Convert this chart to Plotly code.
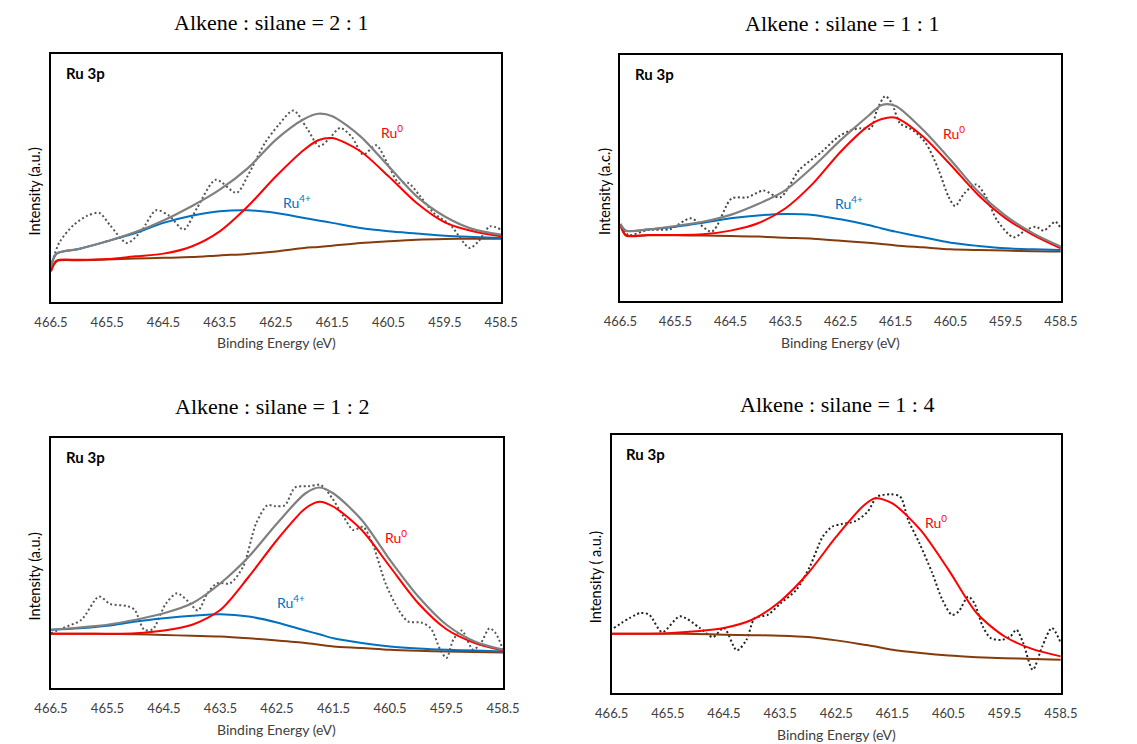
import plotly.graph_objects as go

W, H = 1137, 744

# ---------------- data: Ru 3p XPS fits (intensity in arbitrary units) ----------------
TITLES = ["Alkene : silane = 2 : 1", "Alkene : silane = 1 : 1",
          "Alkene : silane = 1 : 2", "Alkene : silane = 1 : 4"]
Y_TITLES = ["Intensity (a.u.)", "Intensity (a.c.)", "Intensity (a.u.)", "Intensity ( a.u.)"]
TICK_VALUES = [466.5, 465.5, 464.5, 463.5, 462.5, 461.5, 460.5, 459.5, 458.5]

# panel 1 (2 : 1)
fit_e1 = [466.5, 466.4, 466.0, 465.5, 465.0, 464.5, 464.0, 463.5, 463.0, 462.5, 462.0,
          461.75, 461.5, 461.0, 460.5, 460.0, 459.5, 459.0, 458.5]
env_1 = [14.4, 19.5, 21.4, 24.5, 28.2, 32.9, 38.6, 45.3, 54.0, 65.5, 73.8,
         75.9, 74.9, 66.8, 54.7, 42.6, 34.5, 29.4, 27.2]
ru0_1 = [12.4, 16.7, 17.0, 17.3, 18.4, 19.5, 22.4, 28.5, 38.6, 50.7, 61.4,
         65.2, 66.1, 60.8, 50.7, 39.9, 32.1, 28.5, 26.5]
ru4_1 = [14.4, 19.5, 21.4, 24.5, 27.8, 31.9, 34.8, 36.6, 37.0, 35.9, 33.9,
         32.9, 31.9, 29.8, 28.5, 27.6, 26.7, 26.2, 25.8]
bg_1 = [12.4, 16.4, 16.8, 17.1, 17.5, 17.8, 18.1, 18.8, 19.4, 20.4, 21.8,
        22.2, 22.7, 23.8, 24.5, 25.1, 25.4, 25.5, 25.5]
raw_e1 = [466.5, 466.35, 466.1, 465.85, 465.64, 465.45, 465.15, 464.9, 464.63, 464.4, 464.14,
          463.9, 463.57, 463.2, 463.0, 462.7, 462.45, 462.19, 461.95, 461.73, 461.55, 461.36,
          461.15, 460.95, 460.72, 460.5, 460.32, 460.15, 459.95, 459.7, 459.4, 459.06, 458.9,
          458.7, 458.5]
raw_1 = [14.4, 24.0, 31.0, 34.8, 35.9, 31.0, 23.8, 28.5, 37.0, 34.8, 29.2,
         38.0, 49.3, 44.0, 51.0, 64.0, 71.5, 77.2, 70.0, 62.8, 66.0, 70.2,
         66.5, 59.4, 63.2, 55.0, 48.0, 48.0, 43.0, 36.0, 31.0, 21.8, 24.5,
         30.5, 29.2]

# panel 2 (1 : 1)
fit_e2 = [466.5, 466.4, 466.0, 465.5, 465.0, 464.5, 464.0, 463.5, 463.0, 462.5, 462.0,
          461.75, 461.5, 461.0, 460.5, 460.0, 459.5, 459.0, 458.5]
env_2 = [31.3, 28.6, 29.1, 30.5, 32.2, 35.0, 39.4, 45.1, 54.6, 65.4, 75.2,
         79.7, 79.3, 69.5, 57.3, 44.4, 34.6, 27.5, 22.1]
ru0_2 = [31.3, 26.8, 26.8, 26.8, 27.1, 28.6, 31.6, 37.7, 47.8, 60.7, 71.1,
         74.0, 74.5, 66.8, 55.3, 43.1, 33.6, 26.8, 21.4]
ru4_2 = [31.3, 28.6, 29.1, 30.2, 31.8, 33.6, 34.8, 35.4, 35.0, 33.2, 30.9,
         29.5, 28.2, 25.9, 23.7, 22.4, 21.4, 21.0, 20.7]
bg_2 = [30.9, 26.6, 26.7, 26.7, 26.6, 26.4, 26.2, 25.7, 25.3, 24.5, 23.7,
        23.2, 22.6, 21.8, 21.0, 20.7, 20.5, 20.2, 20.1]
raw_e2 = [466.5, 466.35, 466.0, 465.6, 465.22, 464.84, 464.48, 464.2, 463.9, 463.6, 463.25,
          462.84, 462.54, 462.3, 462.13, 461.95, 461.84, 461.69, 461.57, 461.42, 461.19,
          460.95, 460.72, 460.54, 460.42, 460.25, 460.04, 459.86, 459.66, 459.36, 459.13,
          458.95, 458.81, 458.6, 458.5]
raw_2 = [30.2, 26.8, 28.9, 29.2, 33.6, 28.2, 41.7, 42.1, 44.9, 42.1, 53.3,
         60.7, 66.8, 69.5, 70.2, 70.2, 77.6, 83.3, 80.4, 72.2, 69.5,
         64.1, 53.3, 42.4, 38.6, 43.8, 47.4, 42.4, 32.9, 25.9, 28.9,
         30.2, 28.6, 32.2, 29.5]

# panel 3 (1 : 2)
fit_e3 = [466.5, 466.0, 465.5, 465.0, 464.5, 464.0, 463.5, 463.0, 462.5, 462.0,
          461.75, 461.5, 461.0, 460.5, 460.0, 459.5, 459.0, 458.5]
env_3 = [23.3, 24.2, 25.3, 27.3, 29.9, 33.9, 41.9, 52.5, 65.8, 77.8,
         80.2, 77.8, 67.2, 51.2, 36.6, 25.3, 18.6, 15.3]
ru0_3 = [21.7, 21.7, 21.7, 21.9, 23.0, 25.3, 31.3, 44.5, 59.2, 71.8,
         74.5, 72.5, 63.2, 48.5, 33.9, 23.5, 18.0, 15.0]
ru4_3 = [23.3, 23.9, 24.9, 26.6, 27.9, 28.9, 29.5, 28.6, 26.2, 23.0,
         21.5, 19.9, 18.0, 16.6, 15.8, 15.3, 15.0, 14.6]
bg_3 = [21.7, 21.7, 21.6, 21.5, 21.2, 20.9, 20.6, 19.9, 19.0, 18.0,
        17.3, 16.6, 16.0, 15.3, 14.9, 14.6, 14.4, 14.2]
raw_e3 = [466.5, 466.3, 465.96, 465.65, 465.45, 465.16, 465.02, 464.85, 464.7, 464.47, 464.27,
          464.07, 463.9, 463.73, 463.56, 463.33, 463.1, 462.87, 462.67, 462.53, 462.36,
          462.18, 461.95, 461.72, 461.52, 461.32, 461.15, 460.98, 460.81, 460.58, 460.35,
          460.18, 459.95, 459.78, 459.61, 459.5, 459.38, 459.23, 459.03, 458.89, 458.74,
          458.63, 458.5]
raw_3 = [21.9, 23.9, 27.3, 36.6, 33.6, 32.8, 31.3, 23.3, 23.5, 33.6, 37.9,
         34.6, 31.0, 37.9, 41.9, 41.9, 48.5, 65.8, 73.1, 72.7, 73.1,
         80.2, 80.7, 81.1, 75.8, 68.5, 63.2, 64.5, 57.8, 41.9, 31.3,
         26.6, 26.2, 23.9, 15.3, 12.0, 19.3, 23.0, 15.3, 18.0, 23.9,
         21.9, 15.3]

# panel 4 (1 : 4)
fit_e4 = [466.5, 466.0, 465.5, 465.0, 464.5, 464.0, 463.5, 463.0, 462.5, 462.0,
          461.8, 461.5, 461.0, 460.5, 460.0, 459.5, 459.0, 458.5]
ru0_4 = [23.0, 23.0, 23.2, 23.9, 25.2, 28.4, 35.5, 46.5, 60.6, 72.9,
         75.5, 73.5, 63.2, 47.7, 31.0, 21.9, 17.0, 14.2]
bg_4 = [23.0, 23.0, 23.0, 22.9, 22.6, 22.4, 22.2, 21.7, 20.4, 18.7,
        18.0, 16.8, 15.5, 14.5, 13.9, 13.5, 13.2, 12.9]
raw_e4 = [466.46, 465.99, 465.83, 465.6, 465.28, 464.93, 464.7, 464.5, 464.27, 464.1, 463.95,
          463.72, 463.49, 463.21, 462.97, 462.74, 462.57, 462.4, 462.17, 461.94, 461.77,
          461.53, 461.36, 461.22, 461.02, 460.79, 460.61, 460.44, 460.32, 460.15, 460.04,
          459.89, 459.75, 459.55, 459.4, 459.29, 459.17, 459.0, 458.83, 458.66, 458.5]
raw_4 = [25.2, 31.0, 30.3, 23.6, 29.7, 25.2, 21.7, 25.2, 16.5, 20.6, 29.0,
         30.3, 34.8, 40.0, 49.0, 60.6, 64.5, 65.5, 66.5, 70.3, 76.1,
         77.0, 76.1, 67.1, 58.1, 46.5, 36.1, 30.3, 31.6, 37.4, 34.8,
         25.8, 21.3, 20.6, 21.9, 24.5, 19.4, 9.0, 18.1, 25.2, 19.4]

# peak labels: (energy, intensity) anchor for each component label
RU0_LABEL_POS = [(460.43, 68.8), (460.44, 68.4), (460.4, 60.5), (460.73, 66.5)]
RU4_LABEL_POS = [(462.12, 40.6), (462.34, 40.0), (462.26, 34.6), None]

# ---------------- styling ----------------
C_ENV = "#808080"
C_RU0 = "#ff0000"
C_RU4 = "#0070c0"
C_BG = "#843c0c"
C_RAW = ["#555555", "#444444", "#555555", "#222222"]
SANS = "Lato, 'Open Sans', sans-serif"
SERIF = "'Liberation Serif', 'Times New Roman', serif"

# plot-box pixel rectangles (left, top, right, bottom)
BOXES = [(35, 54, 499, 302), (622, 55, 1076, 301),
         (35, 438, 501, 688), (613, 435, 1076, 693)]

panels = [
    dict(fit_e=fit_e1, env=env_1, ru0=ru0_1, ru4=ru4_1, bg=bg_1, raw_e=raw_e1, raw=raw_1),
    dict(fit_e=fit_e2, env=env_2, ru0=ru0_2, ru4=ru4_2, bg=bg_2, raw_e=raw_e2, raw=raw_2),
    dict(fit_e=fit_e3, env=env_3, ru0=ru0_3, ru4=ru4_3, bg=bg_3, raw_e=raw_e3, raw=raw_3),
    dict(fit_e=fit_e4, env=None, ru0=ru0_4, ru4=None, bg=bg_4, raw_e=raw_e4, raw=raw_4),
]

fig = go.Figure()
annotations = []
layout_axes = {}


def px_x(x):
    return x / W


def px_y(y):
    return 1 - y / H


for i, (p, box) in enumerate(zip(panels, BOXES)):
    n = i + 1
    xa = "x" if n == 1 else f"x{n}"
    ya = "y" if n == 1 else f"y{n}"
    l, t, r, b = box

    def add_line(xs, ys, color, width, dash="solid", shape="spline"):
        fig.add_trace(go.Scatter(
            x=xs, y=ys, mode="lines", xaxis=xa, yaxis=ya, showlegend=False,
            hoverinfo="skip",
            line=dict(color=color, width=width, dash=dash, shape=shape, smoothing=0.8),
        ))

    # measured spectrum as round-looking dots
    add_line(p["raw_e"], p["raw"], C_RAW[i], 2.0, dash="2px,2.5px")
    add_line(p["fit_e"], p["bg"], C_BG, 2.0)
    if p["ru4"] is not None:
        add_line(p["fit_e"], p["ru4"], C_RU4, 2.0)
    add_line(p["fit_e"], p["ru0"], C_RU0, 2.0)
    if p["env"] is not None:
        add_line(p["fit_e"], p["env"], C_ENV, 2.2)

    axis_common = dict(showline=True, mirror=True, linecolor="black", linewidth=1.5,
                       showgrid=False, zeroline=False)
    layout_axes["xaxis" if n == 1 else f"xaxis{n}"] = dict(
        domain=[px_x(l), px_x(r)], anchor=ya, range=[466.5, 458.5],
        tickmode="array", tickvals=TICK_VALUES,
        ticktext=[f"{v:.1f}" for v in TICK_VALUES],
        ticks="outside", ticklen=8, tickcolor="rgba(0,0,0,0)",
        tickfont=dict(family=SANS, size=13, color="#404040"),
        **axis_common)
    layout_axes["yaxis" if n == 1 else f"yaxis{n}"] = dict(
        domain=[px_y(b), px_y(t)], anchor=xa, range=[0, 100],
        showticklabels=False, ticks="", **axis_common)

    cx = (l + r) / 2
    # panel title
    annotations.append(dict(text=TITLES[i], x=px_x(cx + (1 if i % 2 else -5)),
                            y=px_y(t - 31), xref="paper", yref="paper",
                            showarrow=False, xanchor="center", yanchor="middle",
                            font=dict(family=SERIF, size=22, color="black")))
    # x axis title
    annotations.append(dict(text="Binding Energy (eV)", x=px_x(cx), y=px_y(b + 41),
                            xref="paper", yref="paper", showarrow=False,
                            xanchor="center", yanchor="middle",
                            font=dict(family=SANS, size=14, color="#404040")))
    # y axis title
    annotations.append(dict(text=Y_TITLES[i], x=px_x(l - 17), y=px_y((t + b) / 2 + 13),
                            xref="paper", yref="paper", showarrow=False, textangle=-90,
                            xanchor="center", yanchor="middle",
                            font=dict(family=SANS, size=14.5, color="black")))
    # core level tag
    annotations.append(dict(text="<b>Ru 3p</b>", x=px_x(l + 13), y=px_y(t + 19),
                            xref="paper", yref="paper", showarrow=False,
                            xanchor="left", yanchor="middle",
                            font=dict(family=SANS, size=15, color="black")))
    # component labels
    ex, ey = RU0_LABEL_POS[i]
    annotations.append(dict(text="Ru<sup>0</sup>", x=ex, y=ey, xref=xa, yref=ya,
                            showarrow=False, xanchor="center", yanchor="middle",
                            font=dict(family=SANS, size=14, color=C_RU0)))
    if RU4_LABEL_POS[i] is not None:
        ex, ey = RU4_LABEL_POS[i]
        annotations.append(dict(text="Ru<sup>4+</sup>", x=ex, y=ey, xref=xa, yref=ya,
                                showarrow=False, xanchor="center", yanchor="middle",
                                font=dict(family=SANS, size=14, color=C_RU4)))

fig.update_layout(
    width=W, height=H, autosize=False,
    margin=dict(l=0, r=0, t=0, b=0),
    paper_bgcolor="white", plot_bgcolor="white",
    annotations=annotations,
    **layout_axes,
)

fig.write_html("out.html")
